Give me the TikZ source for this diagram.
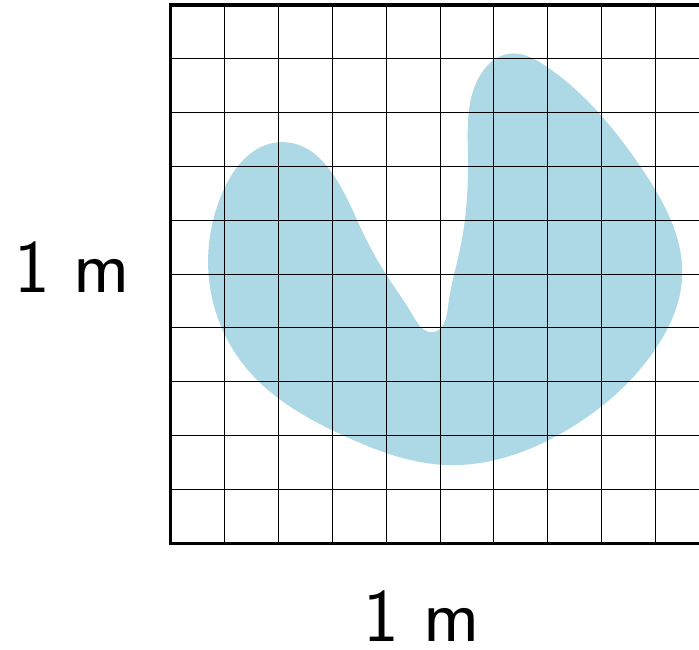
\documentclass[tikz,border=0pt]{standalone}
\usepackage{tikz}
\usetikzlibrary{positioning,hobby}
\definecolor{blobblue}{HTML}{ADD8E6}

\begin{document}
\begin{tikzpicture}[
  lbl/.style={font=\sffamily\fontsize{40}{48}\selectfont, inner sep=0pt, anchor=base},
  cell/.style={line width=0.5pt, black}]
  \clip (-3.178,-1.970) rectangle (9.814,10.093);
  % the region
  \fill[blobblue, use Hobby shortcut, closed=true]
    (0.69,5.17) .. (1.40,3.25) .. (3.20,2.00) .. (5.13,1.45) .. (7.36,2.10)
    .. (9.00,3.60) .. (9.50,4.93) .. (8.77,6.93) .. (6.99,8.85) .. (6.26,9.09)
    .. (5.75,8.70) .. (5.52,7.20) .. (5.38,5.50) .. (5.15,4.40) .. (4.87,3.92)
    .. (4.50,4.22) .. (3.98,5.02) .. (3.46,6.00) .. (2.03,7.45) .. (0.95,6.50);
  % grid and frame
  \draw[cell] (0,0) grid (10,10);
  \draw[line width=1.6pt] (0,0) rectangle (10,10);
  \node[lbl] (side) at (-1.83,4.65) {1~m};
  \node[lbl] (base) at (4.66,-1.83) {1~m};
\end{tikzpicture}
\end{document}
